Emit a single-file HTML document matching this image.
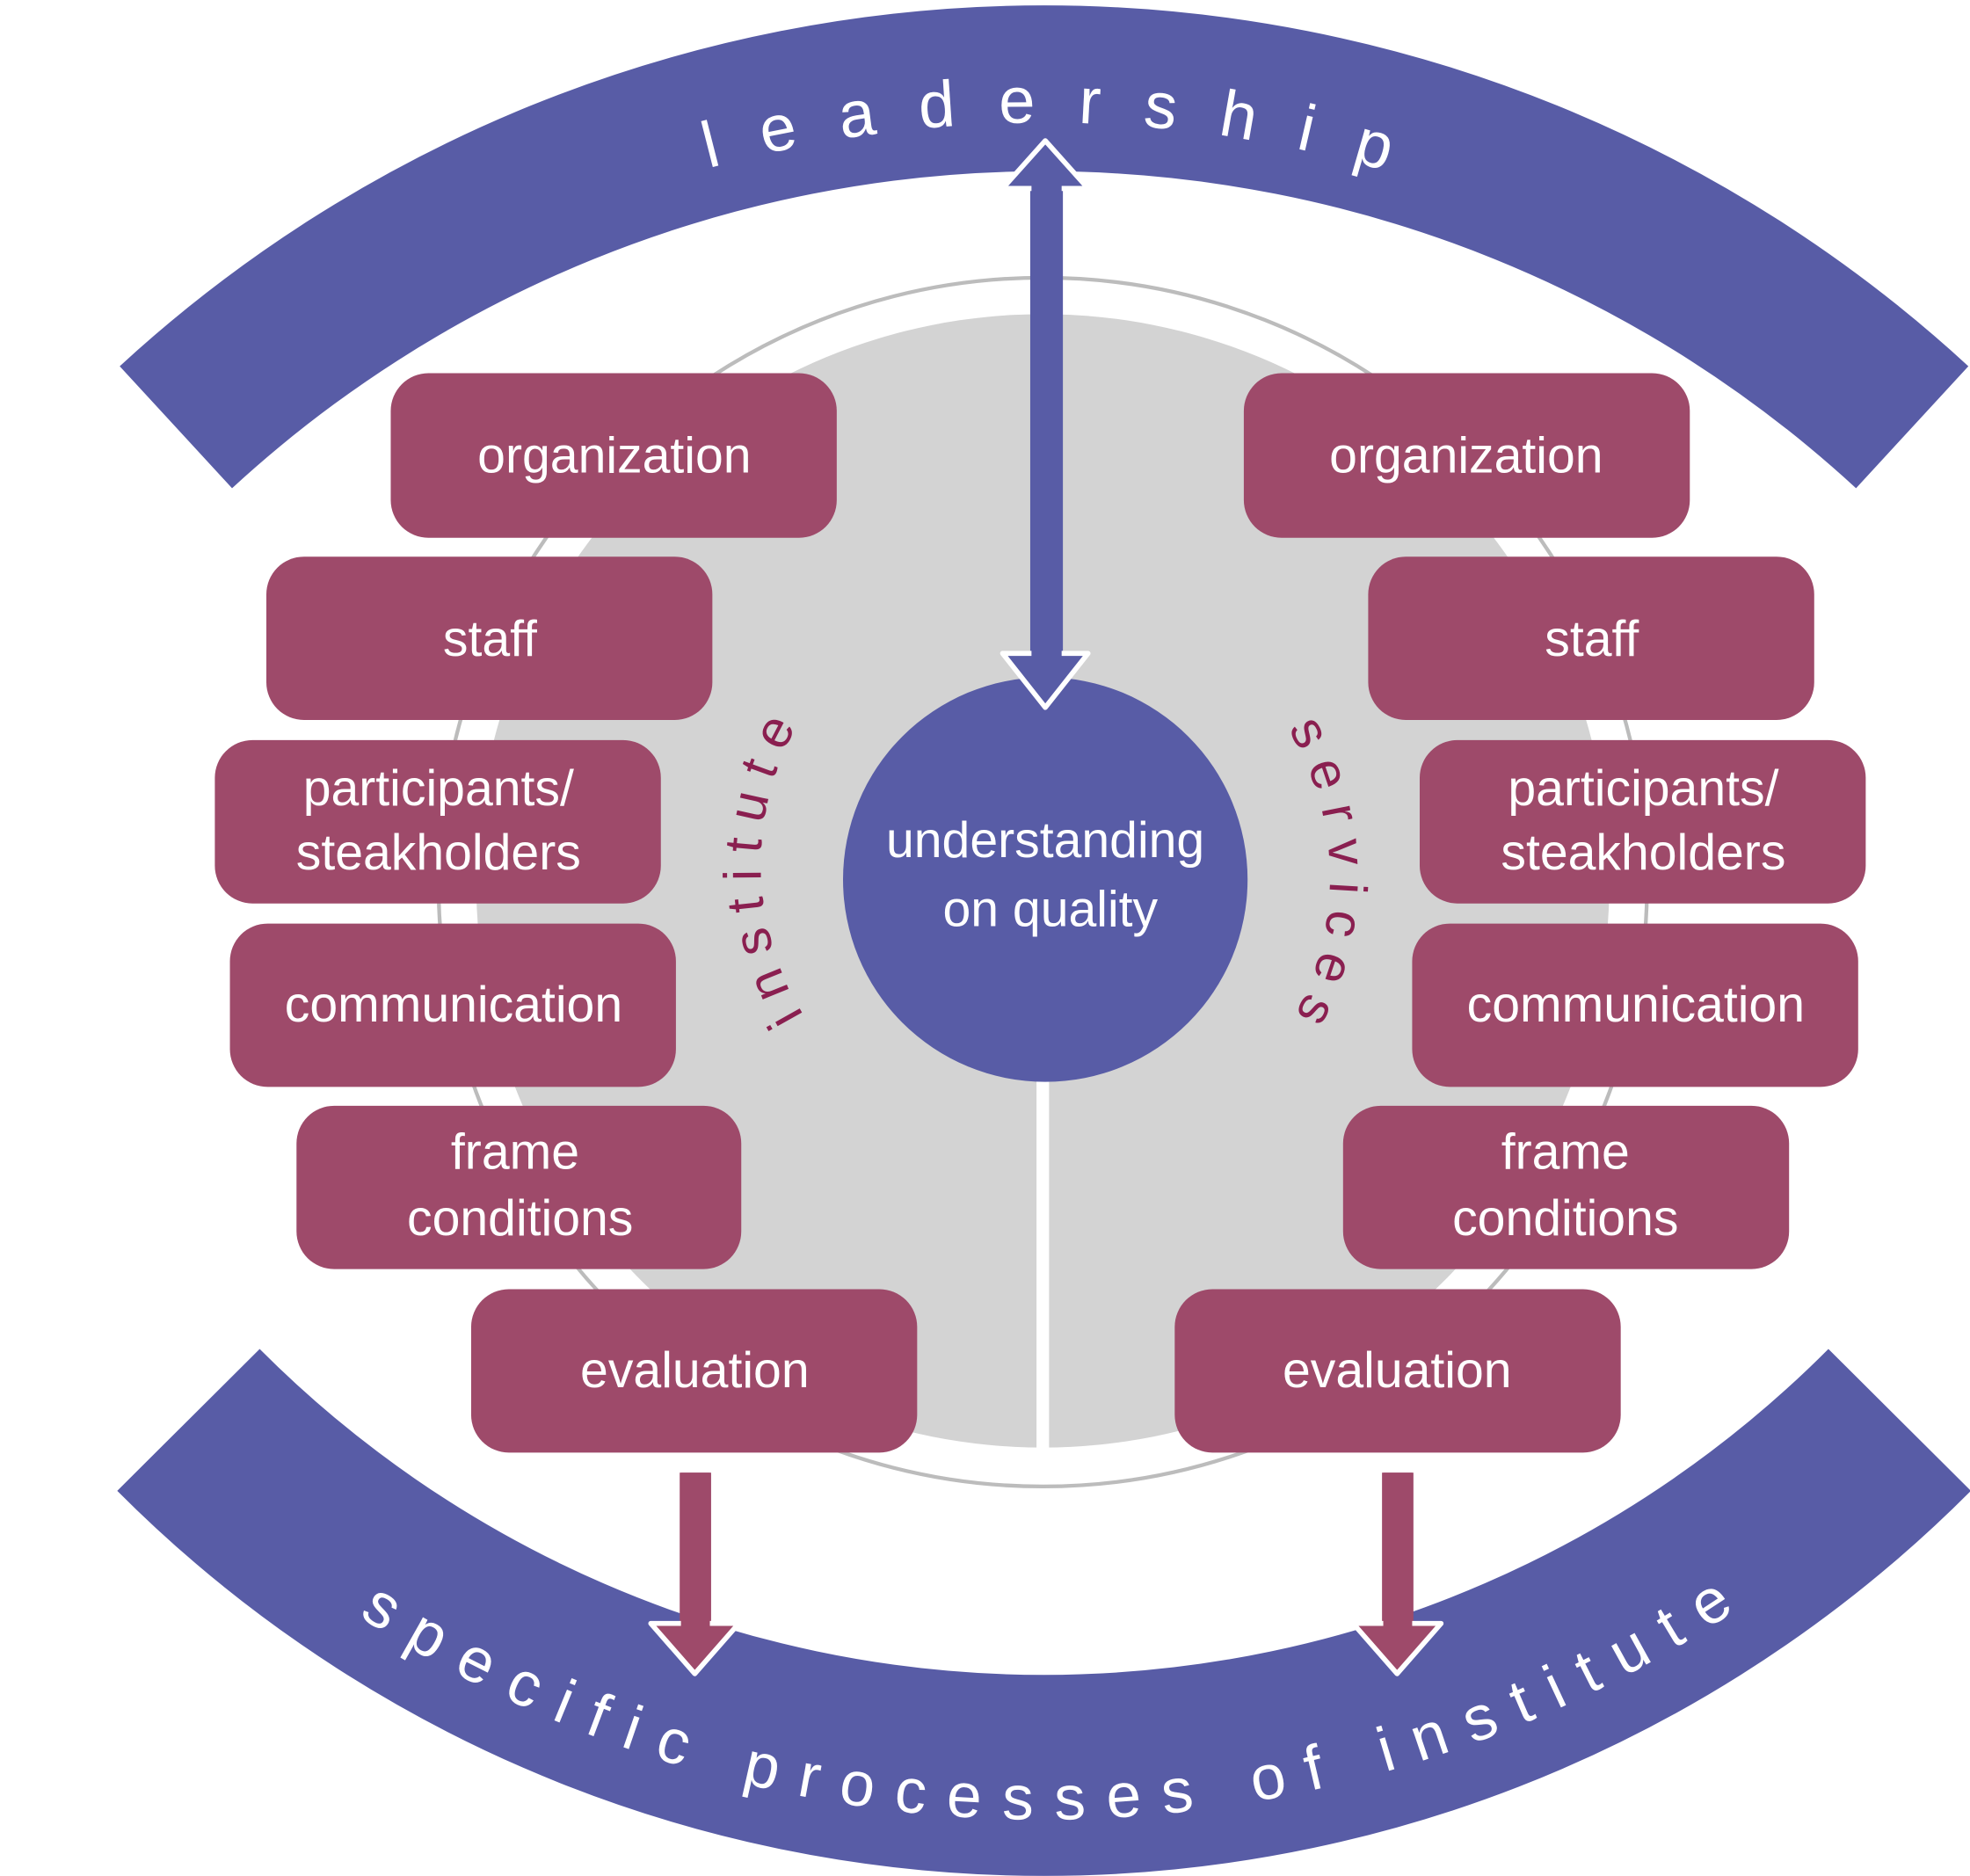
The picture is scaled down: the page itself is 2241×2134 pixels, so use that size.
<!DOCTYPE html>
<html><head><meta charset="utf-8"><style>
html,body{margin:0;padding:0;background:#fff;}
svg{display:block;}
text{font-family:"Liberation Sans",sans-serif;}
</style></head><body>
<svg width="2241" height="2134" viewBox="0 0 1568 1493" preserveAspectRatio="none" xmlns="http://www.w3.org/2000/svg">
<defs>
<path id="topArc" d="M 194 329 A 990 990 0 0 1 1466 329"/>
<path id="botArc" d="M 125 1156 A 997 997 0 0 0 1535 1156"/>
<path id="instArc" d="M 718 884 A 227 227 0 0 1 718 492"/>
<path id="servArc" d="M 946 503 A 227 227 0 0 1 946 895"/>
</defs>
<circle cx="830" cy="702" r="481" fill="none" stroke="#bcbcbc" stroke-width="3"/>
<circle cx="830" cy="701" r="451" fill="#d3d3d3"/>
<line x1="830" y1="860" x2="830" y2="1155" stroke="#fff" stroke-width="10"/>
<path d="M 140 340 A 1020 1020 0 0 1 1522 340" fill="none" stroke="#585ca6" stroke-width="132" stroke-linejoin="round"/>
<path d="M 150 1130 A 961 961 0 0 0 1512 1130" fill="none" stroke="#585ca6" stroke-width="160"/>
<text font-size="52" fill="#fff" letter-spacing="34"><textPath href="#topArc" startOffset="51.5%" text-anchor="middle">leadership</textPath></text>
<text font-size="50" fill="#fff" letter-spacing="17"><textPath href="#botArc" startOffset="50.8%" text-anchor="middle">specific processes of institute</textPath></text>
<circle cx="832" cy="700" r="161" fill="#585ca6"/>
<text x="832" y="682" font-size="40" fill="#fff" text-anchor="middle">understanding</text>
<text x="836" y="737" font-size="40" fill="#fff" text-anchor="middle">on quality</text>
<rect x="820" y="150" width="26" height="372" fill="#585ca6"/>
<polygon points="832,112 866,150 798,150" fill="#585ca6" stroke="#fff" stroke-width="4" stroke-linejoin="round"/>
<polygon points="798,520 866,520 832,563" fill="#585ca6" stroke="#fff" stroke-width="4" stroke-linejoin="round"/>
<rect x="821" y="146" width="24" height="378" fill="#585ca6"/>
<text font-size="42" fill="#8a1f50" letter-spacing="12"><textPath href="#instArc" startOffset="50%" text-anchor="middle">institute</textPath></text>
<text font-size="42" fill="#8a1f50" letter-spacing="12"><textPath href="#servArc" startOffset="50%" text-anchor="middle">services</textPath></text>
<g fill="#9e4a6a">
<rect x="311" y="297" width="355" height="131" rx="30"/>
<rect x="212" y="443" width="355" height="130" rx="30"/>
<rect x="171" y="589" width="355" height="130" rx="30"/>
<rect x="183" y="735" width="355" height="130" rx="30"/>
<rect x="236" y="880" width="354" height="130" rx="30"/>
<rect x="375" y="1026" width="355" height="130" rx="30"/>
<rect x="990" y="297" width="355" height="131" rx="30"/>
<rect x="1089" y="443" width="355" height="130" rx="30"/>
<rect x="1130" y="589" width="355" height="130" rx="30"/>
<rect x="1124" y="735" width="355" height="130" rx="30"/>
<rect x="1069" y="880" width="355" height="130" rx="30"/>
<rect x="935" y="1026" width="355" height="130" rx="30"/>
</g>
<g font-size="40" fill="#fff" text-anchor="middle">
<text x="489" y="376">organization</text>
<text x="390" y="522">staff</text>
<text x="349" y="641">participants/</text>
<text x="349" y="692">steakholders</text>
<text x="361" y="813">communication</text>
<text x="410" y="930">frame</text>
<text x="414" y="983">conditions</text>
<text x="553" y="1104">evaluation</text>
<text x="1167" y="376">organization</text>
<text x="1267" y="522">staff</text>
<text x="1308" y="641">participants/</text>
<text x="1308" y="692">steakholders</text>
<text x="1302" y="813">communication</text>
<text x="1246" y="930">frame</text>
<text x="1246" y="983">conditions</text>
<text x="1112" y="1104">evaluation</text>
</g>
<rect x="541" y="1172" width="25" height="122" fill="#9e4a6a"/>
<polygon points="518,1292 588,1292 553,1332" fill="#9e4a6a" stroke="#fff" stroke-width="4" stroke-linejoin="round"/>
<rect x="542" y="1172" width="23" height="126" fill="#9e4a6a"/>
<rect x="1100" y="1172" width="25" height="122" fill="#9e4a6a"/>
<polygon points="1077,1292 1147,1292 1112,1332" fill="#9e4a6a" stroke="#fff" stroke-width="4" stroke-linejoin="round"/>
<rect x="1101" y="1172" width="23" height="126" fill="#9e4a6a"/>
</svg>
</body></html>
